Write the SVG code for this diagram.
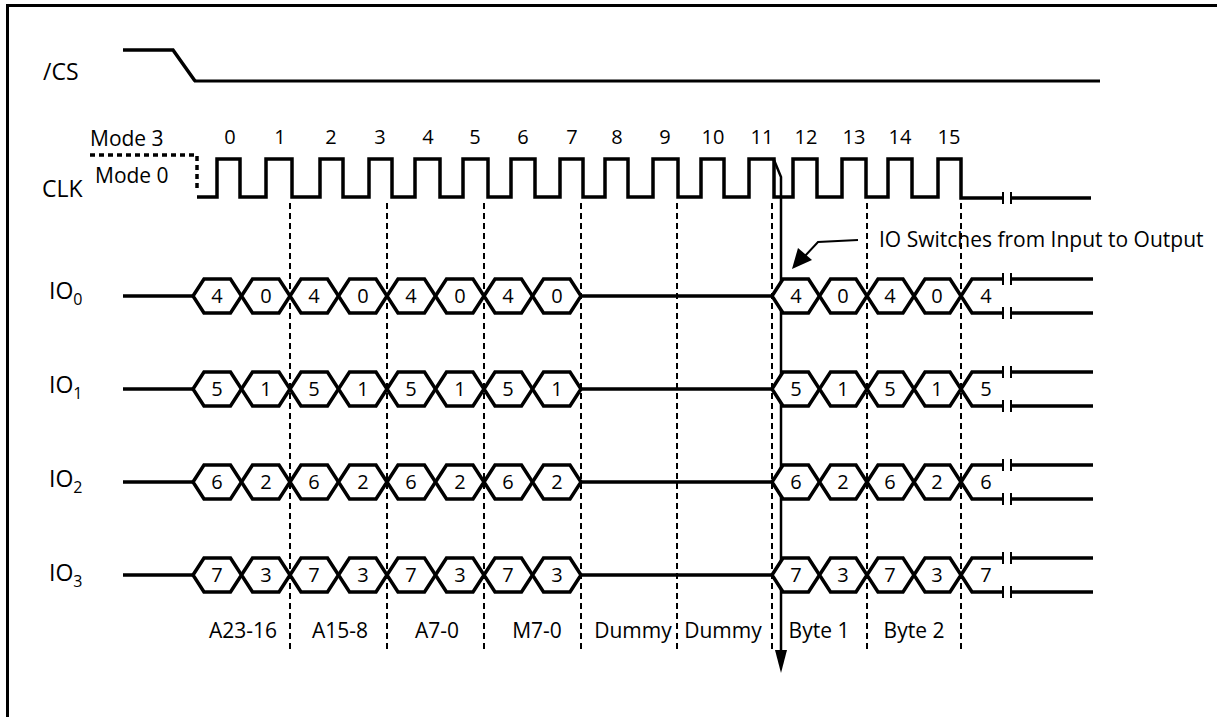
<svg xmlns="http://www.w3.org/2000/svg" xmlns:xlink="http://www.w3.org/1999/xlink" width="1217" height="717" viewBox="0 0 1217 717">
<style>
text{font-family:"Open Sans","Liberation Sans",sans-serif;fill:#000}
.sig{fill:none;stroke:#000;stroke-width:3.5;stroke-linejoin:miter}
.hex{fill:#fff;stroke:#000;stroke-width:3.5;stroke-linejoin:miter}
.tick{fill:none;stroke:#000;stroke-width:2}
.grid{fill:none;stroke:#000;stroke-width:2;stroke-dasharray:6,4}
.lbl{font-size:23px}
.num{font-size:20px;text-anchor:middle}
.seg{font-size:21px;text-anchor:middle}
</style>
<defs>
<g id="bus">
<path class="sig" d="M123,0 H193 M581,0 H772"/>
<polygon class="hex" points="193,0 204,-17 230.5,-17 241.5,0 230.5,17 204,17"/>
<polygon class="hex" points="241.5,0 252.5,-17 279,-17 290,0 279,17 252.5,17"/>
<polygon class="hex" points="290,0 301,-17 327.5,-17 338.5,0 327.5,17 301,17"/>
<polygon class="hex" points="338.5,0 349.5,-17 376,-17 387,0 376,17 349.5,17"/>
<polygon class="hex" points="387,0 398,-17 424.5,-17 435.5,0 424.5,17 398,17"/>
<polygon class="hex" points="435.5,0 446.5,-17 473,-17 484,0 473,17 446.5,17"/>
<polygon class="hex" points="484,0 495,-17 521.5,-17 532.5,0 521.5,17 495,17"/>
<polygon class="hex" points="532.5,0 543.5,-17 570,-17 581,0 570,17 543.5,17"/>
<polygon class="hex" points="772,0 783,-17 808.5,-17 819.5,0 808.5,17 783,17"/>
<polygon class="hex" points="819.5,0 830.5,-17 856,-17 867,0 856,17 830.5,17"/>
<polygon class="hex" points="867,0 878,-17 903,-17 914,0 903,17 878,17"/>
<polygon class="hex" points="914,0 925,-17 950,-17 961,0 950,17 925,17"/>
<path class="sig" d="M1003,-17 H972 L961,0 L972,17 H1003 M1011,-17 H1093 M1011,17 H1093"/>
<path class="tick" d="M1003,-23 V-11 M1011,-23 V-11 M1003,11 V23 M1011,11 V23"/>
</g>
</defs>
<rect width="1217" height="717" fill="#fff"/>
<path d="M7.5,717 V5.5 H1217" fill="none" stroke="#000" stroke-width="3"/>

<g id="cs">
<text class="lbl" x="43" y="80">/CS</text>
<path class="sig" d="M123,50 H173 L195,81"/>
<path d="M194,81 H1100" fill="none" stroke="#000" stroke-width="3"/>
</g>

<g id="clk">
<text class="lbl" x="42" y="197">CLK</text>
<text x="90" y="146" font-size="21">Mode 3</text>
<text x="95" y="183" font-size="21">Mode 0</text>
<path d="M90,155 H197 V192" fill="none" stroke="#000" stroke-width="3.5" stroke-dasharray="5,4"/>
<path class="sig" d="M197,197 H217 V159 H240 V197 H266 V159 H292 V197 H320 V159 H343 V197 H369 V159 H392 V197 H415 V159 H440 V197 H463 V159 H488 V197 H511 V159 H535 V197 H560 V159 H583 V197 H605 V159 H628 V197 H653 V159 H678 V197 H701 V159 H724 V197 H749 V159 H774 V197 H793 V159 H817 V197 H842 V159 H866 V197 H888 V159 H912 V197 H938 V159 H961 V198 H1003 M1011,198 H1091"/>
<path class="tick" d="M1003,192 V204 M1011,192 V204"/>
<g class="num">
<text x="230" y="144">0</text>
<text x="280" y="144">1</text>
<text x="331" y="144">2</text>
<text x="380" y="144">3</text>
<text x="428" y="144">4</text>
<text x="475" y="144">5</text>
<text x="523" y="144">6</text>
<text x="572" y="144">7</text>
<text x="617" y="144">8</text>
<text x="665" y="144">9</text>
<text x="713" y="144">10</text>
<text x="762" y="144">11</text>
<text x="806" y="144">12</text>
<text x="854" y="144">13</text>
<text x="900" y="144">14</text>
<text x="949" y="144">15</text>
</g>
</g>

<g id="connectors">
<path class="grid" d="M290,203 V652 M387,203 V652 M484,203 V652 M581,203 V652 M677,203 V652 M772,203 V652 M867,203 V652 M961,203 V652"/>
<path d="M774,160 L781,177 V652" fill="none" stroke="#000" stroke-width="2.5"/>
<polygon points="775,650 787,650 781,673" fill="#000"/>
<path d="M858,240 L818,242 L805,256" fill="none" stroke="#000" stroke-width="2"/>
<polygon points="792,269 798,248 812,260" fill="#000"/>
</g>

<g id="io0">
<text class="lbl" x="49" y="299" font-size="22">IO<tspan font-size="16" dy="6">0</tspan></text>
<use xlink:href="#bus" transform="translate(0,296)"/>
<g class="num">
<text x="217" y="303">4</text><text x="266" y="303">0</text><text x="314" y="303">4</text><text x="363" y="303">0</text>
<text x="411" y="303">4</text><text x="460" y="303">0</text><text x="508" y="303">4</text><text x="557" y="303">0</text>
<text x="796" y="303">4</text><text x="843" y="303">0</text><text x="890" y="303">4</text><text x="937" y="303">0</text><text x="986" y="303">4</text>
</g>
</g>

<g id="io1">
<text class="lbl" x="49" y="393" font-size="22">IO<tspan font-size="16" dy="6">1</tspan></text>
<use xlink:href="#bus" transform="translate(0,389)"/>
<g class="num">
<text x="217" y="396">5</text><text x="266" y="396">1</text><text x="314" y="396">5</text><text x="363" y="396">1</text>
<text x="411" y="396">5</text><text x="460" y="396">1</text><text x="508" y="396">5</text><text x="557" y="396">1</text>
<text x="796" y="396">5</text><text x="843" y="396">1</text><text x="890" y="396">5</text><text x="937" y="396">1</text><text x="986" y="396">5</text>
</g>
</g>

<g id="io2">
<text class="lbl" x="49" y="487" font-size="22">IO<tspan font-size="16" dy="6">2</tspan></text>
<use xlink:href="#bus" transform="translate(0,482)"/>
<g class="num">
<text x="217" y="489">6</text><text x="266" y="489">2</text><text x="314" y="489">6</text><text x="363" y="489">2</text>
<text x="411" y="489">6</text><text x="460" y="489">2</text><text x="508" y="489">6</text><text x="557" y="489">2</text>
<text x="796" y="489">6</text><text x="843" y="489">2</text><text x="890" y="489">6</text><text x="937" y="489">2</text><text x="986" y="489">6</text>
</g>
</g>

<g id="io3">
<text class="lbl" x="49" y="581" font-size="22">IO<tspan font-size="16" dy="6">3</tspan></text>
<use xlink:href="#bus" transform="translate(0,575)"/>
<g class="num">
<text x="217" y="582">7</text><text x="266" y="582">3</text><text x="314" y="582">7</text><text x="363" y="582">3</text>
<text x="411" y="582">7</text><text x="460" y="582">3</text><text x="508" y="582">7</text><text x="557" y="582">3</text>
<text x="796" y="582">7</text><text x="843" y="582">3</text><text x="890" y="582">7</text><text x="937" y="582">3</text><text x="986" y="582">7</text>
</g>
</g>

<g id="phases" class="seg">
<text x="243" y="638">A23-16</text>
<text x="340" y="638">A15-8</text>
<text x="437" y="638">A7-0</text>
<text x="537" y="638">M7-0</text>
<text x="633" y="638">Dummy</text>
<text x="723" y="638">Dummy</text>
<text x="819" y="638">Byte 1</text>
<text x="914" y="638">Byte 2</text>
</g>

<g id="note">
<text x="879" y="247" font-size="21">IO Switches from Input to Output</text>
</g>
</svg>
